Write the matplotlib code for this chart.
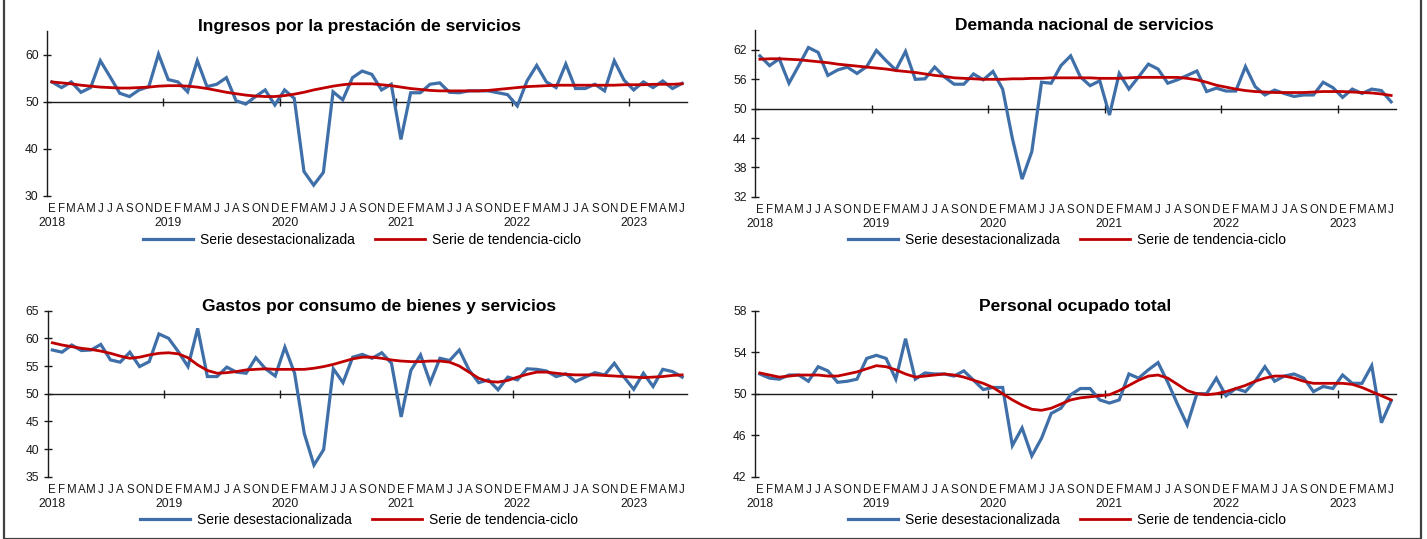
import numpy as np
import matplotlib
matplotlib.use("Agg")
import matplotlib.pyplot as plt
from matplotlib.patches import Rectangle

plt.rcParams['font.family'] = ['Liberation Sans', 'DejaVu Sans']

# ---------------- data ----------------
month_letters = ['E', 'F', 'M', 'A', 'M', 'J', 'J', 'A', 'S', 'O', 'N', 'D']
years = ['2018', '2019', '2020', '2021', '2022', '2023']
n_months = 66  # Jan 2018 .. Jun 2023

titles = ['Ingresos por la prestación de servicios',
          'Demanda nacional de servicios',
          'Gastos por consumo de bienes y servicios',
          'Personal ocupado total']
legend_labels = ['Serie desestacionalizada', 'Serie de tendencia-ciclo']

ingresos_desest = [54.2, 53.0, 54.2, 52.0, 53.0, 58.7, 55.3, 51.8, 51.1, 52.5, 53.2, 60.1,
                   54.7, 54.2, 52.1, 58.7, 53.2, 53.7, 55.1, 50.2, 49.5, 51.1, 52.5, 49.3,
                   52.5, 50.7, 35.2, 32.3, 35.0, 52.1, 50.4, 55.1, 56.5, 55.8, 52.5, 53.7,
                   42.0, 51.9, 51.9, 53.7, 54.0, 52.0, 51.9, 52.3, 52.3, 52.3, 51.9, 51.5,
                   49.1, 54.4, 57.7, 54.2, 53.0, 58.0, 52.8, 52.8, 53.7, 52.3, 58.7, 54.6,
                   52.5, 54.2, 53.0, 54.4, 52.8, 53.9]
ingresos_tend = [54.2, 54.0, 53.8, 53.5, 53.3, 53.1, 53.0, 52.9, 52.9, 53.0, 53.1, 53.3,
                 53.4, 53.4, 53.3, 53.1, 52.8, 52.4, 52.0, 51.7, 51.4, 51.2, 51.1, 51.1,
                 51.3, 51.6, 52.0, 52.5, 52.9, 53.3, 53.6, 53.8, 53.8, 53.8, 53.6, 53.4,
                 53.1, 52.8, 52.6, 52.4, 52.3, 52.3, 52.3, 52.3, 52.3, 52.4, 52.6, 52.8,
                 53.0, 53.2, 53.3, 53.4, 53.5, 53.5, 53.5, 53.5, 53.5, 53.5, 53.5, 53.6,
                 53.6, 53.6, 53.7, 53.7, 53.7, 53.8]

demanda_desest = [60.8, 58.8, 60.2, 55.2, 58.8, 62.5, 61.5, 56.8, 57.9, 58.5, 57.2, 58.6,
                  61.9, 59.8, 57.9, 61.7, 56.0, 56.1, 58.5, 56.5, 55.0, 55.0, 57.1, 55.9,
                  57.6, 54.0, 43.9, 35.6, 41.2, 55.4, 55.2, 58.8, 60.8, 56.5, 54.7, 55.7,
                  48.7, 57.2, 54.0, 56.5, 59.1, 58.1, 55.2, 55.9, 56.8, 57.7, 53.5, 54.2,
                  53.6, 53.6, 58.6, 54.5, 52.8, 53.8, 53.1, 52.5, 52.8, 52.8, 55.4, 54.3,
                  52.3, 54.0, 53.1, 54.0, 53.7, 51.4]
demanda_tend = [60.1, 60.2, 60.2, 60.1, 60.0, 59.8, 59.6, 59.4, 59.1, 58.9, 58.7, 58.5,
                58.3, 58.1, 57.8, 57.6, 57.4, 57.1, 56.8, 56.6, 56.3, 56.2, 56.1, 56.0,
                56.0, 56.0, 56.1, 56.1, 56.2, 56.2, 56.3, 56.3, 56.3, 56.3, 56.3, 56.2,
                56.2, 56.2, 56.3, 56.4, 56.4, 56.4, 56.4, 56.4, 56.2, 55.9, 55.4, 54.8,
                54.4, 54.0, 53.7, 53.5, 53.4, 53.3, 53.3, 53.3, 53.3, 53.4, 53.5, 53.5,
                53.5, 53.4, 53.3, 53.2, 53.0, 52.7]

gastos_desest = [57.9, 57.5, 58.8, 57.8, 57.9, 58.9, 56.1, 55.7, 57.5, 54.9, 55.8, 60.8,
                 60.0, 57.6, 54.9, 61.8, 53.1, 53.1, 54.8, 53.9, 53.7, 56.5, 54.5, 53.2,
                 58.4, 53.7, 42.8, 37.1, 39.9, 54.5, 52.0, 56.6, 57.1, 56.4, 57.4, 55.5,
                 45.8, 54.2, 57.0, 52.0, 56.4, 56.0, 57.9, 54.3, 52.0, 52.5, 50.7, 53.0,
                 52.5, 54.5, 54.4, 54.1, 53.1, 53.6, 52.2, 53.0, 53.8, 53.4, 55.5, 53.0,
                 50.8, 53.7, 51.3, 54.4, 54.0, 53.0]
gastos_tend = [59.2, 58.8, 58.5, 58.2, 58.0, 57.7, 57.3, 56.8, 56.4, 56.6, 57.0, 57.3,
               57.4, 57.2, 56.5, 55.2, 54.2, 53.7, 53.8, 54.0, 54.3, 54.4, 54.5, 54.4,
               54.4, 54.4, 54.4, 54.6, 54.9, 55.3, 55.8, 56.3, 56.6, 56.6, 56.4, 56.1,
               55.9, 55.8, 55.8, 55.9, 55.9, 55.7, 55.0, 53.9, 52.8, 52.2, 52.1, 52.4,
               53.0, 53.5, 53.9, 53.9, 53.7, 53.5, 53.4, 53.4, 53.4, 53.3, 53.2, 53.1,
               53.0, 52.9, 53.0, 53.1, 53.3, 53.4]

personal_desest = [51.9, 51.5, 51.4, 51.8, 51.8, 51.2, 52.6, 52.2, 51.1, 51.2, 51.4, 53.4,
                   53.7, 53.4, 51.4, 55.3, 51.4, 52.0, 51.9, 51.9, 51.7, 52.2, 51.3, 50.4,
                   50.6, 50.6, 45.0, 46.7, 44.0, 45.7, 48.1, 48.6, 49.9, 50.5, 50.5, 49.4,
                   49.1, 49.4, 51.9, 51.5, 52.3, 53.0, 51.1, 49.0, 47.0, 50.0, 50.0, 51.5,
                   49.8, 50.5, 50.2, 51.2, 52.6, 51.2, 51.7, 51.9, 51.5, 50.2, 50.7, 50.5,
                   51.8, 51.0, 51.0, 52.7, 47.2, 49.3]
personal_tend = [52.0, 51.8, 51.6, 51.7, 51.8, 51.8, 51.8, 51.7, 51.7, 51.9, 52.1, 52.4,
                 52.7, 52.6, 52.3, 51.9, 51.6, 51.7, 51.8, 51.9, 51.8, 51.6, 51.3, 51.0,
                 50.6, 50.0, 49.4, 48.9, 48.5, 48.4, 48.6, 49.0, 49.4, 49.6, 49.7, 49.8,
                 49.9, 50.3, 50.8, 51.3, 51.7, 51.8, 51.5, 50.9, 50.3, 50.0, 49.9, 50.0,
                 50.2, 50.5, 50.8, 51.2, 51.5, 51.7, 51.7, 51.5, 51.2, 51.0, 51.0, 51.0,
                 51.0, 50.9, 50.6, 50.2, 49.8, 49.4]

series_desest = [ingresos_desest, demanda_desest, gastos_desest, personal_desest]
series_tend = [ingresos_tend, demanda_tend, gastos_tend, personal_tend]
y_limits = [(30, 65), (32, 66), (35, 65), (42, 58)]
y_ticks = [[30, 40, 50, 60], [32, 38, 44, 50, 56, 62],
           [35, 40, 45, 50, 55, 60, 65], [42, 46, 50, 54, 58]]

# ---------------- layout ----------------
W, H = 1427, 539
fig = plt.figure(figsize=(W / 100, H / 100), dpi=100)

# axes boxes in pixels: (left, top, right, bottom)
boxes = [(47, 31, 687, 196), (755, 30.4, 1396, 196.7),
         (47.5, 310.7, 687, 476.7), (755, 310.7, 1396, 476.7)]
title_pos = [(360, 26.5), (1084, 26), (379.5, 306), (1075, 306)]
legend_pos = [(362, 240), (1067, 240), (359, 520), (1067, 520)]

blue = '#3F6FA8'
red = '#C00000'
axis_col = '#1a1a1a'

x = np.arange(n_months) + 0.5
month_labels = [month_letters[i % 12] for i in range(n_months)]
year_pos = x[::12]

for k in range(4):
    l, t, r, b = boxes[k]
    ax = fig.add_axes([l / W, 1 - b / H, (r - l) / W, (b - t) / H])
    ax.plot(x, series_desest[k], color=blue, lw=2.3, solid_joinstyle='miter',
            label=legend_labels[0], zorder=3)
    ax.plot(x, series_tend[k], color=red, lw=2.0, label=legend_labels[1], zorder=4)
    ax.set_xlim(0, n_months)
    ax.set_ylim(*y_limits[k])
    ax.set_yticks(y_ticks[k])
    ax.tick_params(axis='y', direction='inout', length=6, width=1, color=axis_col,
                   labelsize=8.7, pad=3, labelcolor='#1a1a1a')
    for s in ['top', 'right']:
        ax.spines[s].set_visible(False)
    ax.spines['left'].set_color(axis_col)
    ax.spines['left'].set_linewidth(1)
    ax.spines['bottom'].set_position(('data', 50))
    ax.spines['bottom'].set_color(axis_col)
    ax.spines['bottom'].set_linewidth(1)
    ax.set_xticks(np.arange(12, n_months, 12))
    ax.set_xticklabels([])
    ax.tick_params(axis='x', direction='inout', length=6, width=1, color=axis_col)

    sec = ax.secondary_xaxis(0)
    sec.set_xticks(x, month_labels)
    sec.tick_params(length=0, pad=5, labelsize=8.3, labelcolor='#1a1a1a')
    sec.spines['bottom'].set_visible(False)

    sec2 = ax.secondary_xaxis(0)
    sec2.set_xticks(year_pos, years)
    sec2.tick_params(length=0, pad=15, labelsize=8.7, labelcolor='#1a1a1a')
    sec2.spines['bottom'].set_visible(False)

    tx, ty = title_pos[k]
    fig.text(tx / W, 1 - ty / H, titles[k], ha='center', va='center',
             fontsize=12.5, fontweight='bold', color='black')

    lx, ly = legend_pos[k]
    ax.legend(loc='center', bbox_to_anchor=(lx / W, 1 - ly / H),
              bbox_transform=fig.transFigure, ncol=2, frameon=False,
              fontsize=10, handlelength=3.6, handletextpad=0.5,
              columnspacing=1.4, borderpad=0)

# outer frame
fig.patches.append(Rectangle((4 / W, 0), (1421 - 4) / W, (H - 3) / H + 0.01,
                             transform=fig.transFigure, fill=False,
                             edgecolor='#404040', linewidth=1.6))

fig.savefig('out.png', dpi=100)
